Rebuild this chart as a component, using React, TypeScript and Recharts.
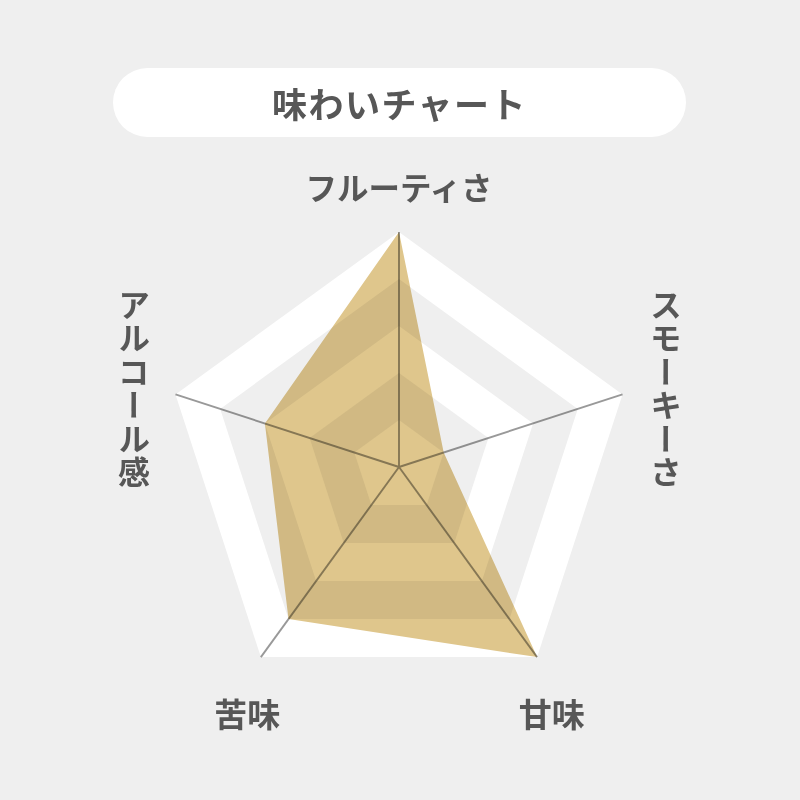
import { RadarChart, Radar, PolarGrid, PolarAngleAxis, PolarRadiusAxis } from 'recharts'

const AXES = ['フルーティさ', 'スモーキーさ', '甘味', '苦味', 'アルコール感']
const SCORES = [5, 1, 5, 4, 3]
const BAND_LEVELS = [5, 4, 3, 2, 1]
const BAND_COLORS = ['#ffffff', '#efefef', '#ffffff', '#efefef', '#ffffff']
const VERTICAL_AXES = ['スモーキーさ', 'アルコール感']

// nudges from the default tick anchor to where each label sits
const LABEL_NUDGE = [
  { dx: 0, dy: -38, size: 31.5 },
  { dx: 36, dy: -3, size: 32 },
  { dx: 10, dy: 49, size: 33 },
  { dx: -9, dy: 49, size: 33 },
  { dx: -34, dy: -3, size: 32 },
]

const data = AXES.map((name, i) => {
  const row: Record<string, string | number> = { name, score: SCORES[i] }
  BAND_LEVELS.forEach(level => { row[`band${level}`] = level })
  return row
})

const FONT = '"Noto Sans CJK JP", "Noto Sans", sans-serif'
const TEXT = '#575757'
const GEOM = { cx: 399, cy: 467, outerRadius: 235 }

function AxisLabel(props: any) {
  const { x, y, payload, index } = props
  const nudge = LABEL_NUDGE[index] ?? { dx: 0, dy: 0, size: 32 }
  const vertical = VERTICAL_AXES.includes(payload.value)
  return (
    <text
      x={x + nudge.dx}
      y={y + nudge.dy}
      textAnchor="middle"
      dominantBaseline="central"
      fill={TEXT}
      fontSize={nudge.size}
      fontWeight={700}
      fontFamily={FONT}
      style={vertical
        ? { writingMode: 'vertical-rl', textOrientation: 'upright', letterSpacing: 1.5 } as any
        : undefined}
    >
      {payload.value}
    </text>
  )
}

export default function App() {
  return (
    <div style={{ position: 'relative', width: 800, height: 800, background: '#efefef', fontFamily: FONT }}>
      <style>{`body{margin:0} .flavor path{mix-blend-mode:multiply}`}</style>
      <div
        style={{
          position: 'absolute', left: 113, top: 68, width: 573, height: 69,
          borderRadius: 35, background: '#ffffff',
          display: 'flex', alignItems: 'center', justifyContent: 'center',
          color: TEXT, fontSize: 35, fontWeight: 700, letterSpacing: 1.5,
        }}
      >
        味わいチャート
      </div>

      {/* bottom layer: alternating bands + axis labels */}
      <div style={{ position: 'absolute', left: 0, top: 0 }}>
        <RadarChart width={800} height={800} data={data} {...GEOM}
          margin={{ top: 0, right: 0, bottom: 0, left: 0 }}>
          {BAND_LEVELS.map((level, i) => (
            <Radar
              key={level}
              dataKey={`band${level}`}
              fill={BAND_COLORS[i]}
              fillOpacity={1}
              stroke="none"
              dot={false}
              isAnimationActive={false}
            />
          ))}
          <PolarRadiusAxis domain={[0, 5]} tick={false} axisLine={false} />
          <PolarAngleAxis dataKey="name" tick={<AxisLabel />} tickLine={false} axisLine={false} />
        </RadarChart>
      </div>

      {/* top layer: spokes + score polygon, multiplied onto the bands */}
      <div style={{ position: 'absolute', left: 0, top: 0, mixBlendMode: 'multiply' }}>
        <RadarChart width={800} height={800} data={data} {...GEOM}
          margin={{ top: 0, right: 0, bottom: 0, left: 0 }}>
          <PolarGrid gridType="polygon" polarRadius={[]} stroke="#999999" strokeWidth={1.9} />
          <PolarRadiusAxis domain={[0, 5]} tick={false} axisLine={false} />
          <PolarAngleAxis dataKey="name" tick={false} tickLine={false} axisLine={false} />
          <Radar
            className="flavor"
            dataKey="score"
            fill="#dfc68c"
            fillOpacity={1}
            stroke="none"
            dot={false}
            isAnimationActive={false}
          />
        </RadarChart>
      </div>
    </div>
  )
}
